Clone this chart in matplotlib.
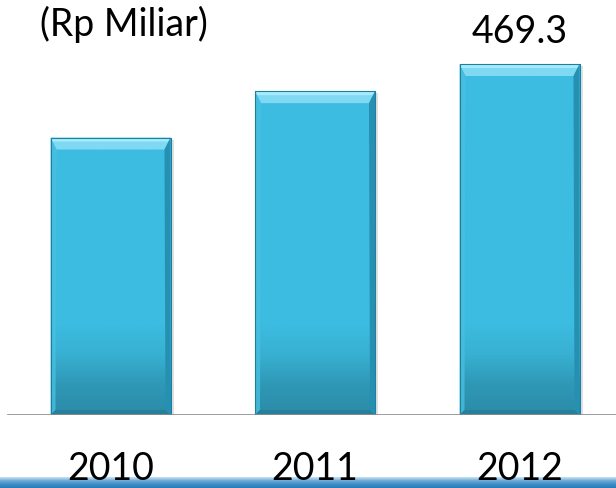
import numpy as np
import matplotlib.pyplot as plt
from matplotlib.colors import LinearSegmentedColormap
from matplotlib.patches import Polygon

plt.rcParams['font.family'] = ['Lato', 'DejaVu Sans']

years = ['2010', '2011', '2012']
values = [371.0, 433.0, 469.3]
unit = '(Rp Miliar)'

W, H = 616, 488
base_px = 415
px_y = 469.3 / 351      # data units per vertical pixel
px_x = 1 / 204.5        # data units per horizontal pixel

fig = plt.figure(figsize=(W / 100, H / 100), dpi=100)
ax = fig.add_axes([0, (H - base_px) / H, 1, base_px / H])
for s in ax.spines.values():
    s.set_visible(False)
ax.set_yticks([])

x = np.arange(len(years))
bw = 120 * px_x
# shadow
ax.bar(x + 3 * px_x, values, width=bw, bottom=-2 * px_y, color='#c4c4c4', alpha=0.5, zorder=1)
bars = ax.bar(x, values, width=bw, color='#3cbce0', zorder=2)

body = LinearSegmentedColormap.from_list('body', ['#2b8ba8', '#2f98b6', '#38b0d2', '#3cbce0'])
bx, by = 6 * px_x, 12 * px_y
sx, sy = 5 * px_x, 5 * px_y
for b in bars:
    x0, x1, h = b.get_x(), b.get_x() + b.get_width(), b.get_height()
    g = np.clip(np.linspace(0, h, 300) / (90 * px_y), 0, 1).reshape(-1, 1)
    im = ax.imshow(g, cmap=body, vmin=0, vmax=1, origin='lower', aspect='auto',
                   extent=[x0, x1, 0, h], zorder=2.5)
    im.set_clip_path(b)
    # top bevel
    ax.add_patch(Polygon([(x0, h), (x1, h), (x1 - bx, h - by), (x0 + bx, h - by)],
                         closed=True, color='#7fd9f2', lw=0, zorder=3))
    ax.add_patch(Polygon([(x0, h), (x1, h), (x1 - 2 * px_x, h - 4 * px_y), (x0 + 2 * px_x, h - 4 * px_y)],
                         closed=True, color='#a6ebfb', lw=0, zorder=3))
    # left bevel
    ax.add_patch(Polygon([(x0, h), (x0 + bx, h - by), (x0 + sx, sy), (x0, 0)],
                         closed=True, color='#48bfe0', alpha=0.8, lw=0, zorder=3))
    # right bevel
    ax.add_patch(Polygon([(x1, h), (x1 - bx, h - by), (x1 - sx, sy), (x1, 0)],
                         closed=True, color='#2590b2', lw=0, zorder=3))
    # bottom bevel
    ax.add_patch(Polygon([(x0, 0), (x1, 0), (x1 - sx, sy), (x0 + sx, sy)],
                         closed=True, color='#26809c', lw=0, zorder=3))
    ax.plot([x0, x1, x1, x0, x0], [0, 0, h, h, 0], color='#1f7f9e', lw=0.8, zorder=4)

ax.set_xlim(-110.5 * px_x, (W - 110.5) * px_x)
ax.set_ylim(0, base_px * px_y)
ax.axhline(0, xmin=8 / W, xmax=1, color='#8c8c8c', lw=1.2, zorder=5)

ax.set_xticks(x)
ax.set_xticklabels(years, fontsize=27)
ax.tick_params(axis='x', length=0, pad=26)

ax.text(x[2], values[2] + 32 * px_y, f'{values[2]:.1f}', ha='center', va='center',
        fontsize=27, zorder=6)
fig.text(40 / W, 1 - 24 / H, unit, ha='left', va='center', fontsize=27)

# blue strip at the bottom
sax = fig.add_axes([0, 0, 1, 11 / H], zorder=-1)
grad = np.linspace(0, 1, 22).reshape(-1, 1)
sax.imshow(grad, aspect='auto', cmap=LinearSegmentedColormap.from_list(
    'st', ['#2a7bb6', '#3b8ec8', '#6aa9d8', '#c9e0f1']), origin='lower', extent=[0, 1, 0, 1])
sax.set_axis_off()

fig.savefig('out.png', dpi=100)
